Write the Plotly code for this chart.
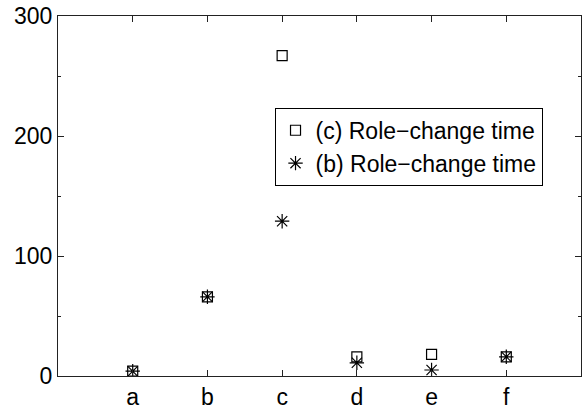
import plotly.graph_objects as go

categories = ["a", "b", "c", "d", "e", "f"]
positions = [1, 2, 3, 4, 5, 6]
series_c = [4, 66, 267, 16, 18, 16]
series_b = [4, 66, 129, 11, 5, 16]
name_c = "(c) Role\u2212change time"
name_b = "(b) Role\u2212change time"

fig = go.Figure()
fig.add_trace(go.Scatter(x=positions, y=series_c, mode="markers", name=name_c,
                         marker=dict(symbol="square-open", size=10, color="black",
                                     line=dict(width=1.2, color="black"))))
fig.add_trace(go.Scatter(x=positions, y=series_b, mode="markers", name=name_b,
                         marker=dict(symbol="asterisk-open", size=12, color="black",
                                     line=dict(width=1.2, color="black"))))

font = dict(family="Liberation Sans, Arial, sans-serif", size=23, color="black")
fig.update_layout(
    width=584, height=412,
    margin=dict(l=58, r=2, t=16, b=33),
    paper_bgcolor="white", plot_bgcolor="white",
    font=font,
    showlegend=True,
    legend=dict(x=0.414, y=0.745, xanchor="left", yanchor="top",
                bordercolor="black", borderwidth=1, bgcolor="white",
                font=font, traceorder="normal", itemwidth=30),
    xaxis=dict(range=[0, 7], tickvals=positions, ticktext=categories,
               showgrid=False, zeroline=False, showline=True, linecolor="#222",
               linewidth=1.3, mirror="ticks", ticks="inside", ticklen=6,
               tickcolor="#222", tickfont=font),
    yaxis=dict(range=[0, 300], dtick=100, tick0=0,
               showgrid=False, zeroline=False, showline=True, linecolor="#222",
               linewidth=1.3, mirror="ticks", ticks="inside", ticklen=6,
               tickcolor="#222", tickfont=font,
               minor=dict(ticks="inside", ticklen=3, dtick=50, tick0=0,
                          tickcolor="#222", showgrid=False)),
)
fig.write_html("out.html", config={"displayModeBar": False},
               post_script="document.body.style.margin='0';document.body.style.overflow='hidden';")
